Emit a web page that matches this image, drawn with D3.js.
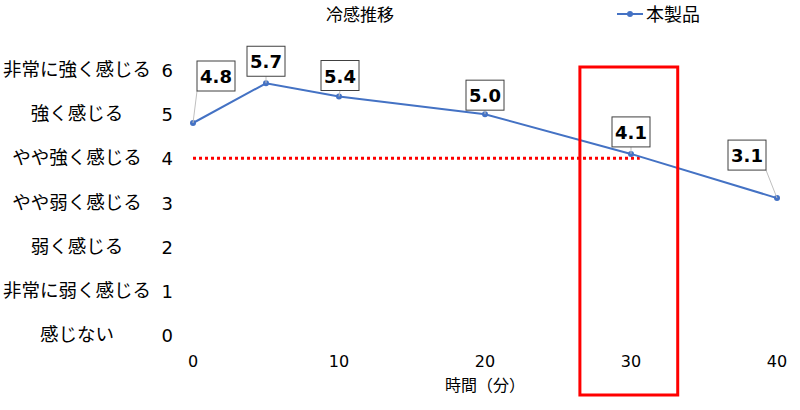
<!DOCTYPE html>
<html>
<head>
<meta charset="utf-8">
<script src="https://cdn.jsdelivr.net/npm/d3@7"></script>
<style>
  body { margin: 0; background: #fff; font-family: "Noto Sans CJK JP", sans-serif; }
</style>
</head>
<body>
<svg id="chart" width="800" height="410"></svg>
<script>
const minutes = [0, 5, 10, 20, 30, 40];
const coolness = [4.8, 5.7, 5.4, 5.0, 4.1, 3.1];
const yTicks = [0, 1, 2, 3, 4, 5, 6];
const xTicks = [0, 10, 20, 30, 40];
const levelNames = ['感じない', '非常に弱く感じる', '弱く感じる', 'やや弱く感じる', 'やや強く感じる', '強く感じる', '非常に強く感じる'];
const threshold = 4;
const thresholdEnd = 30.6;
const highlight = [26.5, 33.2];
// label offsets (px) relative to each point
const labelOffsets = [[23, -47], [0, -22], [1, -21], [0, -19], [0, -22], [-30, -43]];

const svg = d3.select('#chart');
const x = d3.scaleLinear().domain([0, 40]).range([193, 777]);
const y = d3.scaleLinear().domain([0, 6]).range([335, 70]);

svg.append('text').attr('x', 360).attr('y', 21).attr('text-anchor', 'middle')
  .style('font-size', '17px').text('冷感推移');

// legend
svg.append('line').attr('x1', 617).attr('x2', 643).attr('y1', 14).attr('y2', 14)
  .attr('stroke', '#4472C4').attr('stroke-width', 2);
svg.append('circle').attr('cx', 630).attr('cy', 14).attr('r', 3).attr('fill', '#4472C4');
svg.append('text').attr('x', 646).attr('y', 21).style('font-size', '18px').text('本製品');

// y tick numbers and level names
svg.selectAll('.ytick').data(yTicks).enter().append('text')
  .attr('x', 173).attr('y', d => y(d) + 7).attr('text-anchor', 'end')
  .style('font-size', '18px').style('font-family', 'Verdana, "DejaVu Sans"').text(d => d);
svg.selectAll('.lvl').data(levelNames).enter().append('text')
  .attr('x', 77).attr('y', (d, i) => y(i) + 6).attr('text-anchor', 'middle')
  .style('font-size', '18.5px').text(d => d);

// x ticks
svg.selectAll('.xtick').data(xTicks).enter().append('text')
  .attr('x', d => x(d)).attr('y', 367).attr('text-anchor', 'middle')
  .style('font-size', '16px').style('font-family', 'Verdana, "DejaVu Sans"').text(d => d);
svg.append('text').attr('x', 485).attr('y', 391).attr('text-anchor', 'middle')
  .style('font-size', '16px').text('時間（分）');

// threshold dotted line
svg.append('line').attr('x1', x(0)).attr('x2', x(thresholdEnd))
  .attr('y1', y(threshold)).attr('y2', y(threshold))
  .attr('stroke', '#FF0000').attr('stroke-width', 3).attr('stroke-dasharray', '3,3');

// series
const pts = minutes.map((m, i) => ({ m, v: coolness[i], off: labelOffsets[i] }));
svg.append('path').datum(pts)
  .attr('d', d3.line().x(d => x(d.m)).y(d => y(d.v)))
  .attr('fill', 'none').attr('stroke', '#4472C4').attr('stroke-width', 2);
svg.selectAll('.pt').data(pts).enter().append('circle')
  .attr('cx', d => x(d.m)).attr('cy', d => y(d.v)).attr('r', 3).attr('fill', '#4472C4');

// data labels with leader lines
const lab = svg.selectAll('.lab').data(pts).enter().append('g');
lab.append('line')
  .attr('x1', d => x(d.m)).attr('y1', d => y(d.v))
  .attr('x2', d => x(d.m) + d.off[0] + (d.off[0] > 10 ? -19 : d.off[0] < -10 ? 19 : 0))
  .attr('y2', d => y(d.v) + d.off[1] + 15)
  .attr('stroke', '#bfbfbf').attr('stroke-width', 1);
lab.append('rect')
  .attr('x', d => x(d.m) + d.off[0] - 19).attr('y', d => y(d.v) + d.off[1] - 15)
  .attr('width', 38).attr('height', 30)
  .attr('fill', '#fff').attr('stroke', '#404040').attr('stroke-width', 1);
lab.append('text')
  .attr('x', d => x(d.m) + d.off[0]).attr('y', d => y(d.v) + d.off[1] + 7)
  .attr('text-anchor', 'middle').style('font-size', '18px').style('font-weight', 'bold')
  .style('font-family', 'Verdana, "DejaVu Sans"').text(d => d.v.toFixed(1));

// highlight box
svg.append('rect').attr('x', x(highlight[0])).attr('y', 67)
  .attr('width', x(highlight[1]) - x(highlight[0])).attr('height', 328)
  .attr('fill', 'none').attr('stroke', '#FF0000').attr('stroke-width', 3);
</script>
</body>
</html>
